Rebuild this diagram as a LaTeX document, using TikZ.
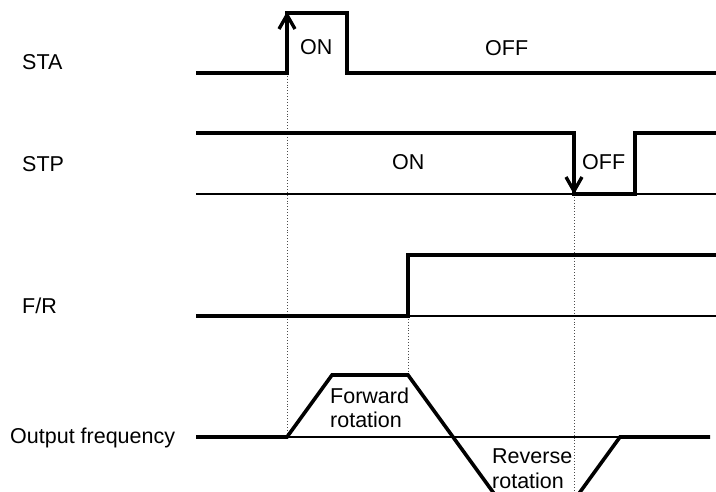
\documentclass[tikz,border=0pt]{standalone}
\usepackage{fontspec}
\setmainfont{Liberation Sans}
\begin{document}
\begin{tikzpicture}[x=1pt,y=-1pt,
  lbl/.style={inner sep=0pt,anchor=base west,font=\fontsize{21.5}{24}\selectfont},
  sig/.style={line width=3.6pt,line join=miter},
  base/.style={line width=1.1pt},
  guide/.style={line width=0.9pt,dotted,black!70},
  barb/.style={line width=3.4pt,line join=miter,line cap=butt}]
\useasboundingbox (0,0) rectangle (716,492);
% labels
\node[lbl] (lsta) at (22,70) {STA};
\node[lbl] (lstp) at (22,172) {STP};
\node[lbl] (lfr) at (22,313) {F/R};
\node[lbl] (lout) at (10,443) {Output frequency};
\node[lbl] (staon) at (300,55) {ON};
\node[lbl] (staoff) at (485,56) {OFF};
\node[lbl] (stpon) at (392,170) {ON};
\node[lbl] (stpoff) at (582,170) {OFF};
\node[lbl] (fwd1) at (330,403) {Forward};
\node[lbl] (fwd2) at (330,427) {rotation};
\node[lbl] (rev1) at (492,463) {Reverse};
\node[lbl] (rev2) at (492,488) {rotation};
% guides
\draw[guide] (287,73) -- (287,437);
\draw[guide] (408,316) -- (408,375);
\draw[guide] (574,194) -- (574,492);
% thin baselines
\draw[base] (196,194) -- (716,194);
\draw[base] (408,316) -- (716,316);
\draw[base] (287,437) -- (620,437);
% STA
\draw[sig] (196,73) -- (287,73) -- (287,13) -- (347,13) -- (347,73) -- (716,73);
\coordinate (staTip) at (287,15);
\draw[barb] (279,29) -- (staTip) -- (295,29);
% STP
\draw[sig] (196,133) -- (574,133) -- (574,194) -- (635,194) -- (635,133) -- (716,133);
\coordinate (stpTip) at (574,191);
\draw[barb] (566,177) -- (stpTip) -- (582,177);
% F/R
\draw[sig] (196,316) -- (408,316) -- (408,255) -- (716,255);
% Output frequency
\begin{scope}
\clip (0,0) rectangle (716,492);
\draw[sig] (196,437) -- (287,437) -- (332,375) -- (408,375) -- (498,499) -- (575,499) -- (620,437) -- (710,437);
\end{scope}
\end{tikzpicture}
\end{document}
